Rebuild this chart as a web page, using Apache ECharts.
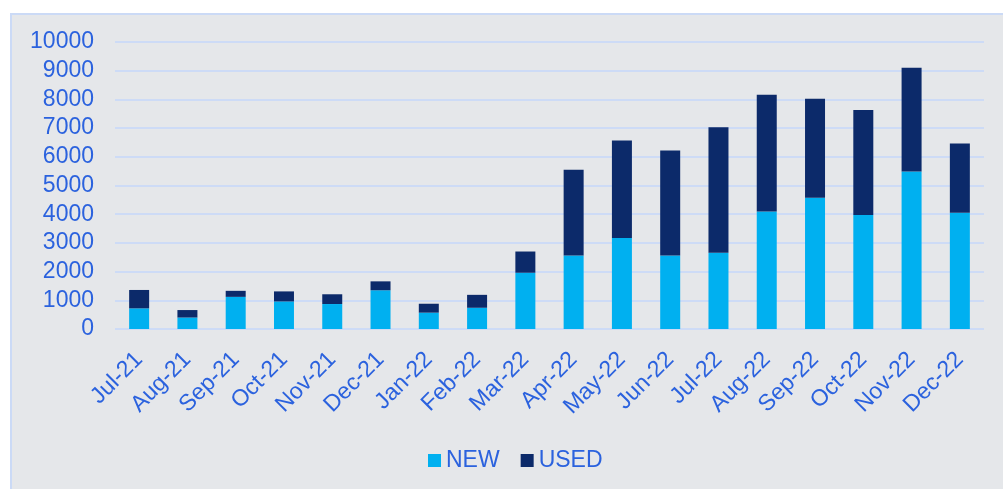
<!DOCTYPE html>
<html>
<head>
<meta charset="utf-8">
<script src="https://cdn.jsdelivr.net/npm/echarts@6/dist/echarts.min.js"></script>
<style>
  html, body { margin: 0; padding: 0; background: #ffffff; }
  #chart { width: 1003px; height: 489px; }
</style>
</head>
<body>
<div id="chart"></div>
<script>
// Monthly registrations split by condition
const months = ['Jul-21', 'Aug-21', 'Sep-21', 'Oct-21', 'Nov-21', 'Dec-21',
                'Jan-22', 'Feb-22', 'Mar-22', 'Apr-22', 'May-22', 'Jun-22',
                'Jul-22', 'Aug-22', 'Sep-22', 'Oct-22', 'Nov-22', 'Dec-22'];
const newUnits  = [720, 400, 1120, 960, 870, 1350, 570, 740, 1960, 2560, 3170, 2560,
                   2660, 4090, 4570, 3970, 5490, 4050];
const usedUnits = [640, 260, 210, 350, 340, 310, 310, 450, 740, 2990, 3400, 3660,
                   4370, 4070, 3450, 3660, 3610, 2410];
const yTicks = { min: 0, max: 10000, step: 1000 };

const textBlue = '#2b62de';
const fontFamily = '"Liberation Sans", Arial, sans-serif';

const chart = echarts.init(document.getElementById('chart'));
chart.setOption({
  animation: false,
  backgroundColor: '#ffffff',
  graphic: [{
    type: 'rect',
    z: -10,
    silent: true,
    shape: { x: 11, y: 14, width: 1000, height: 480 },
    style: { fill: '#e5e7ea', stroke: '#cbdaf6', lineWidth: 2 }
  }],
  grid: { left: 115, right: 19, top: 42, bottom: 160 },
  legend: {
    left: 428,
    top: 449,
    padding: 0,
    itemWidth: 13,
    itemHeight: 13,
    itemGap: 21,
    icon: 'rect',
    textStyle: { color: textBlue, fontSize: 23, fontFamily: fontFamily },
    data: ['NEW', 'USED']
  },
  xAxis: {
    type: 'category',
    data: months,
    axisLine: { show: false },
    axisTick: { show: false },
    axisLabel: {
      rotate: 45,
      interval: 0,
      margin: 27,
      color: textBlue,
      fontSize: 23,
      fontFamily: fontFamily
    }
  },
  yAxis: {
    type: 'value',
    min: yTicks.min,
    max: yTicks.max,
    interval: yTicks.step,
    axisLine: { show: false },
    axisTick: { show: false },
    splitLine: { lineStyle: { color: '#cddbf6', width: 2 } },
    axisLabel: {
      margin: 21,
      color: textBlue,
      fontSize: 23,
      fontFamily: fontFamily,
      formatter: function (v) { return String(v); }
    }
  },
  series: [
    {
      name: 'NEW',
      type: 'bar',
      stack: 'total',
      barWidth: 20,
      itemStyle: { color: '#00b0f0' },
      data: newUnits
    },
    {
      name: 'USED',
      type: 'bar',
      stack: 'total',
      barWidth: 20,
      itemStyle: { color: '#0c2a6a' },
      data: usedUnits
    }
  ]
});
</script>
</body>
</html>
